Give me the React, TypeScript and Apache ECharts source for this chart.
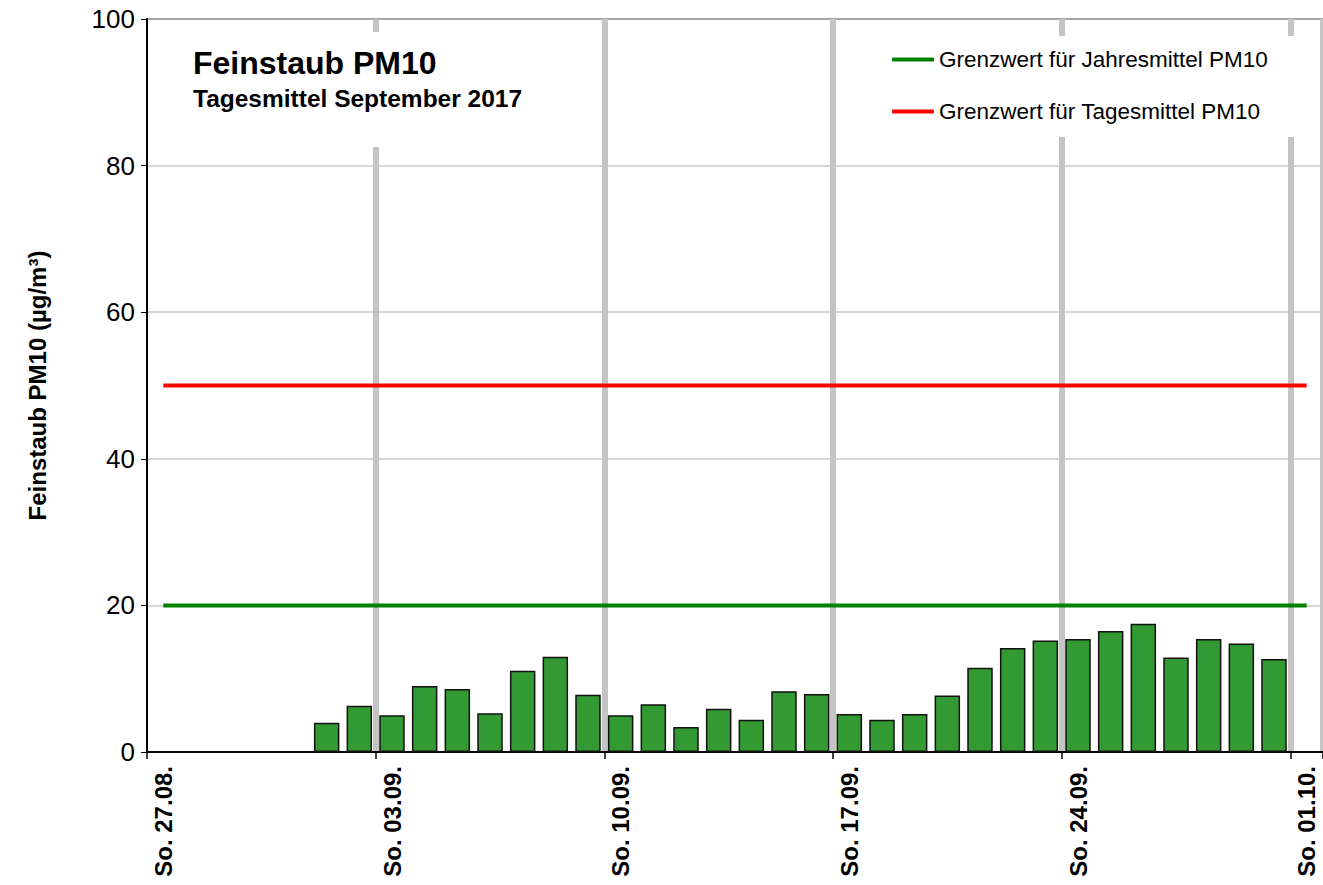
import React, { useEffect, useRef } from "react";
import * as echarts from "echarts";

const days: string[] = [
  "So. 27.08.", "Mo. 28.08.", "Di. 29.08.", "Mi. 30.08.", "Do. 31.08.",
  "Fr. 01.09.", "Sa. 02.09.", "So. 03.09.", "Mo. 04.09.", "Di. 05.09.",
  "Mi. 06.09.", "Do. 07.09.", "Fr. 08.09.", "Sa. 09.09.", "So. 10.09.",
  "Mo. 11.09.", "Di. 12.09.", "Mi. 13.09.", "Do. 14.09.", "Fr. 15.09.",
  "Sa. 16.09.", "So. 17.09.", "Mo. 18.09.", "Di. 19.09.", "Mi. 20.09.",
  "Do. 21.09.", "Fr. 22.09.", "Sa. 23.09.", "So. 24.09.", "Mo. 25.09.",
  "Di. 26.09.", "Mi. 27.09.", "Do. 28.09.", "Fr. 29.09.", "Sa. 30.09.",
  "So. 01.10.",
];

const pm10: (number | null)[] = [
  null, null, null, null, null,
  4.0, 6.3, 5.0, 9.0, 8.6, 5.3, 11.1, 13.0, 7.8, 5.0,
  6.5, 3.4, 5.9, 4.4, 8.3, 7.9, 5.2, 4.4, 5.2, 7.7,
  11.5, 14.2, 15.2, 15.4, 16.5, 17.5, 12.9, 15.4, 14.8, 12.7,
  null,
];

const jahresGrenzwert: number[] = days.map(() => 20);
const tagesGrenzwert: number[] = days.map(() => 50);

const yTicks = { min: 0, max: 100, interval: 20 };

const FONT = 'Arial, "Liberation Sans", sans-serif';

export default function App() {
  const ref = useRef<HTMLDivElement>(null);
  useEffect(() => {
    document.body.style.margin = "0";
    const chart = echarts.init(ref.current!, null, { renderer: "svg" });
    chart.setOption({
      animation: false,
      backgroundColor: "#ffffff",
      textStyle: { fontFamily: FONT },
      title: {
        text: "Feinstaub PM10",
        subtext: "Tagesmittel September 2017",
        left: 170,
        top: 32,
        padding: [15, 20, 36, 23],
        itemGap: 7,
        backgroundColor: "#ffffff",
        textStyle: { fontFamily: FONT, fontSize: 32, fontWeight: "bold", color: "#000" },
        subtextStyle: { fontFamily: FONT, fontSize: 24.5, fontWeight: "bold", color: "#000" },
      },
      legend: {
        left: 886,
        top: 36,
        orient: "vertical",
        padding: [12, 32, 14, 6],
        itemGap: 29,
        itemWidth: 42,
        itemHeight: 4,
        icon: "roundRect",
        backgroundColor: "#ffffff",
        data: ["Grenzwert für Jahresmittel PM10", "Grenzwert für Tagesmittel PM10"],
        textStyle: { fontFamily: FONT, fontSize: 22.5, color: "#000" },
      },
      grid: { left: 147, top: 19, bottom: 133, right: -5, containLabel: false },
      xAxis: {
        type: "category",
        data: days,
        boundaryGap: true,
        axisLine: { lineStyle: { color: "#000", width: 2 } },
        axisTick: { show: true, interval: 6, length: 7, lineStyle: { color: "#000", width: 1.5 } },
        axisLabel: {
          interval: 6,
          rotate: 90,
          margin: 14,
          fontFamily: FONT,
          fontSize: 24,
          fontWeight: "bold",
          color: "#000",
        },
        splitLine: {
          show: true,
          interval: (index: number) => index % 7 === 0 && index > 0 && index < days.length,
          lineStyle: { color: "#c4c4c4", width: 6 },
        },
      },
      yAxis: {
        type: "value",
        min: yTicks.min,
        max: yTicks.max,
        interval: yTicks.interval,
        name: "Feinstaub PM10 (µg/m³)",
        nameLocation: "middle",
        nameGap: 98,
        nameTextStyle: { fontFamily: FONT, fontSize: 24, fontWeight: "bold", color: "#000" },
        axisLine: { show: true, lineStyle: { color: "#000", width: 2 } },
        axisTick: { show: true, length: 6, lineStyle: { color: "#000", width: 1 } },
        axisLabel: { margin: 12, fontFamily: FONT, fontSize: 26, color: "#000" },
        splitLine: {
          show: true,
          lineStyle: { color: ["#c8c8c8", "#c8c8c8", "#c8c8c8", "#c8c8c8", "#c8c8c8", "#888888"], width: 1.5 },
        },
      },
      series: [
        {
          name: "Feinstaub PM10",
          type: "bar",
          data: pm10,
          barCategoryGap: "22%",
          itemStyle: { color: "#339933", borderColor: "#111", borderWidth: 1.5 },
          z: 3,
        },
        {
          name: "Grenzwert für Jahresmittel PM10",
          type: "line",
          data: jahresGrenzwert,
          symbol: "none",
          lineStyle: { color: "#008000", width: 4 },
          itemStyle: { color: "#008000" },
          z: 4,
        },
        {
          name: "Grenzwert für Tagesmittel PM10",
          type: "line",
          data: tagesGrenzwert,
          symbol: "none",
          lineStyle: { color: "#ff0000", width: 4 },
          itemStyle: { color: "#ff0000" },
          z: 4,
        },
      ],
    });
    return () => chart.dispose();
  }, []);
  return <div ref={ref} style={{ width: 1323, height: 885 }} />;
}
